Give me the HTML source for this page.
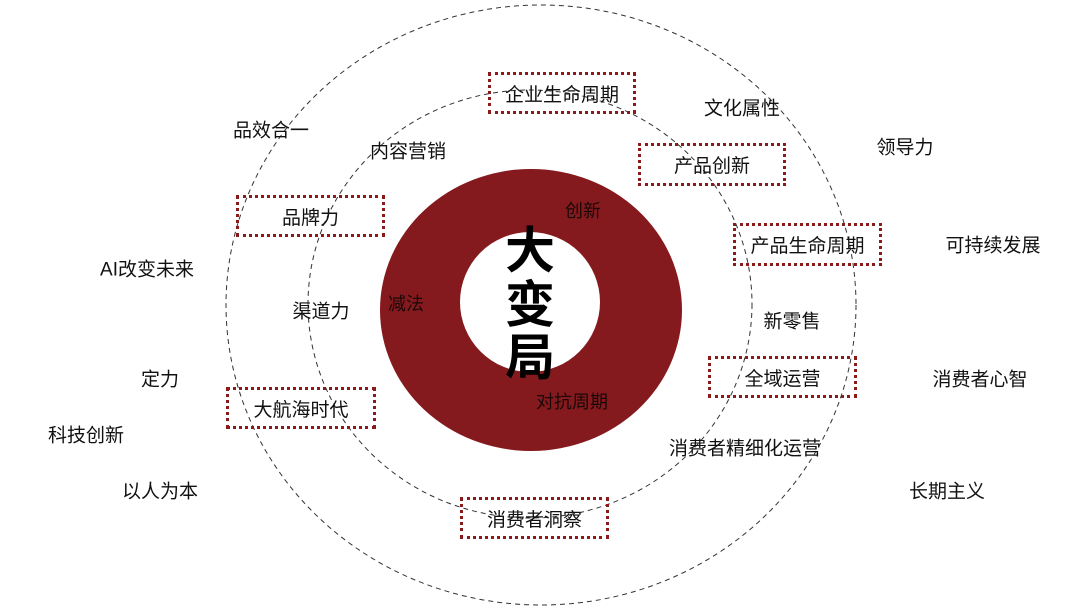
<!DOCTYPE html>
<html><head><meta charset="utf-8"><style>
html,body{margin:0;padding:0;background:#fff}
#c{position:relative;width:1080px;height:608px;overflow:hidden;font-family:"Liberation Sans","Noto Sans CJK SC",sans-serif;color:#111}
.t{position:absolute;font-size:19px;white-space:nowrap;transform:translate(-50%,-50%);line-height:1}
.b{position:absolute;border:3px dotted #8b1a1a;box-sizing:border-box;display:flex;align-items:center;justify-content:center;font-size:19px}
.d{position:absolute;font-size:18px;color:#1a0808;transform:translate(-50%,-50%);white-space:nowrap;line-height:1}
.big{position:absolute;font-size:50px;font-weight:bold;color:#000;transform:translate(-50%,-50%);line-height:1}
</style></head><body><div id="c">
<svg width="1080" height="608" style="position:absolute;left:0;top:0">
<ellipse cx="541" cy="305" rx="315" ry="300" fill="none" stroke="#333" stroke-width="1" stroke-dasharray="5,4"/>
<ellipse cx="530" cy="304" rx="222" ry="214" fill="none" stroke="#333" stroke-width="1" stroke-dasharray="5,4"/>
<ellipse cx="531" cy="310" rx="151" ry="141" fill="#851a1e"/>
<circle cx="530" cy="302" r="70" fill="#fff"/>
</svg>
<div class="b" style="left:488px;top:72px;width:148px;height:42px">企业生命周期</div>
<div class="b" style="left:638px;top:143px;width:148px;height:43px">产品创新</div>
<div class="b" style="left:236px;top:195px;width:149px;height:42px">品牌力</div>
<div class="b" style="left:733px;top:223px;width:149px;height:43px">产品生命周期</div>
<div class="b" style="left:708px;top:356px;width:149px;height:42px">全域运营</div>
<div class="b" style="left:226px;top:387px;width:150px;height:42px">大航海时代</div>
<div class="b" style="left:460px;top:497px;width:149px;height:42px">消费者洞察</div>
<div class="t" style="left:271px;top:131px">品效合一</div>
<div class="t" style="left:742px;top:109px">文化属性</div>
<div class="t" style="left:905px;top:148px">领导力</div>
<div class="t" style="left:408px;top:152px">内容营销</div>
<div class="t" style="left:993px;top:246px">可持续发展</div>
<div class="t" style="left:147px;top:270px">AI改变未来</div>
<div class="t" style="left:321px;top:312px">渠道力</div>
<div class="t" style="left:792px;top:322px">新零售</div>
<div class="t" style="left:160px;top:380px">定力</div>
<div class="t" style="left:980px;top:380px">消费者心智</div>
<div class="t" style="left:86px;top:436px">科技创新</div>
<div class="t" style="left:745px;top:449px">消费者精细化运营</div>
<div class="t" style="left:160px;top:492px">以人为本</div>
<div class="t" style="left:947px;top:492px">长期主义</div>
<div class="d" style="left:583px;top:211px">创新</div>
<div class="d" style="left:406px;top:304px">减法</div>
<div class="d" style="left:572px;top:402px">对抗周期</div>
<div class="big" style="left:530px;top:251px">大</div>
<div class="big" style="left:530px;top:305px">变</div>
<div class="big" style="left:530px;top:358px">局</div>
</div></body></html>
